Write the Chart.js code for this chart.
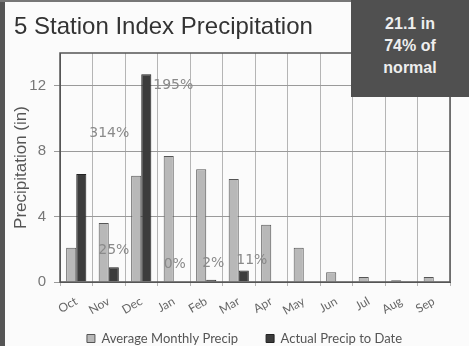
<!DOCTYPE html>
<html><head><meta charset="utf-8">
<script src="https://cdn.jsdelivr.net/npm/chart.js@4/dist/chart.umd.min.js"></script>
<style>
html,body{margin:0;padding:0;background:#fff;}
#wrap{position:relative;width:469px;height:346px;overflow:hidden;background:#fbfbfb;}
#lb{position:absolute;left:0;top:0;width:5px;height:346px;background:#555;}
#tb{position:absolute;left:0;top:0;width:469px;height:2px;background:#777;}
#title{position:absolute;left:14px;top:12px;font:24px "Liberation Sans",Arial,sans-serif;color:#333;white-space:nowrap;}
#box{position:absolute;left:351px;top:0;width:118px;height:97px;background:#505050;color:#eee;font:bold 16px "Liberation Sans",Arial,sans-serif;text-align:center;line-height:22px;padding-top:13px;box-sizing:border-box;}
canvas{position:absolute;left:0;top:0;}
</style></head>
<body><div id="wrap"><canvas id="c" width="469" height="346"></canvas><div id="lb"></div><div id="tb"></div><div id="title">5 Station Index Precipitation</div><div id="box">21.1 in<br>74% of<br>normal</div></div>
<script>
const months = ["Oct","Nov","Dec","Jan","Feb","Mar","Apr","May","Jun","Jul","Aug","Sep"];
const averageMonthly = [2.1,3.6,6.5,7.7,6.9,6.3,3.5,2.1,0.6,0.3,0.1,0.3];
const actualToDate = [6.6,0.9,12.7,0,0.14,0.7,null,null,null,null,null,null];
const percentLabels = ["314%","25%","195%","0%","2%","11%"];
const yTicks = [0,4,8,12];

// label offsets relative to the actual bar top (style only)
const labelOffsets = [[28,-41],[0,-17],[27,11],[-4,-18],[2,-16],[8,-10]];

const pctPlugin = {
  id:'pct',
  afterLayout(chart){
    // shift the legend a little to the right, like the original
    chart.legend.left += 14; chart.legend.right += 14;
  },
  afterDatasetsDraw(chart){
    const ctx = chart.ctx;
    const meta = chart.getDatasetMeta(1);
    ctx.save();
    ctx.font = '14px "DejaVu Sans", sans-serif';
    ctx.fillStyle = '#8a8a8a';
    ctx.textAlign = 'center';
    ctx.textBaseline = 'middle';
    percentLabels.forEach((t,i)=>{
      const el = meta.data[i];
      const y = chart.scales.y.getPixelForValue(actualToDate[i]||0);
      ctx.fillText(t, el.x + labelOffsets[i][0], y + labelOffsets[i][1]);
    });
    ctx.restore();
  }
};
const framePlugin = {
  id:'frame',
  afterDraw(chart){
    const a = chart.chartArea, ctx = chart.ctx;
    ctx.save();
    ctx.strokeStyle = '#555';
    ctx.lineWidth = 1.5;
    ctx.strokeRect(a.left, a.top, a.right-a.left, a.bottom-a.top);
    ctx.restore();
  }
};

new Chart(document.getElementById('c'), {
  type:'bar',
  data:{
    labels: months,
    datasets:[
      {label:'Average Monthly Precip', data: averageMonthly, backgroundColor:'#b8b8b8', borderColor:'#555', borderWidth:1},
      {label:'Actual Precip to Date', data: actualToDate, backgroundColor:'#3c3c3c', borderColor:'#222', borderWidth:1}
    ]
  },
  options:{
    responsive:false, animation:false,
    layout:{padding:{left:11,right:19,top:53,bottom:-9}},
    datasets:{bar:{categoryPercentage:0.62,barPercentage:1}},
    plugins:{
      title:{display:false},
      tooltip:{enabled:false},
      legend:{position:'bottom', labels:{boxWidth:8, boxHeight:8, padding:28, color:'#555', font:{family:'Lato, "Open Sans", sans-serif', size:13}}}
    },
    scales:{
      x:{
        afterFit(s){ s.height = 22; s._computeLabelArea = () => undefined; },
        grid:{color:'#b5b5b5', drawTicks:true, tickLength:4, offset:true},
        border:{color:'#555'},
        ticks:{color:'#666', minRotation:30, maxRotation:30, padding:8, font:{family:'Lato, "Open Sans", sans-serif', size:12}}
      },
      y:{
        min:0, max:14,
        afterBuildTicks(s){ s.ticks = yTicks.map(v=>({value:v})); },
        afterFit(s){ s.width = 49; },
        grid:{color:'#9a9a9a', tickLength:6},
        border:{color:'#555'},
        ticks:{color:'#777', padding:8, font:{family:'"Liberation Sans", Arial, sans-serif', size:15}},
        title:{display:true, text:'Precipitation (in)', color:'#555', padding:0, font:{family:'"Liberation Sans", Arial, sans-serif', size:17}}
      }
    }
  },
  plugins:[pctPlugin, framePlugin]
});
</script></body></html>
